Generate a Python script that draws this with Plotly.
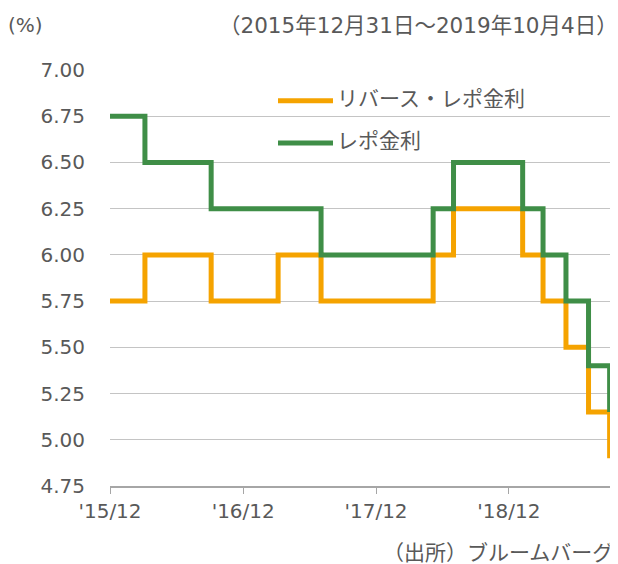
import plotly.graph_objects as go

# ---- data ----
repo_dates = ["2015-12-31", "2016-04-05", "2016-10-04", "2017-08-02", "2018-06-06",
              "2018-08-01", "2019-02-07", "2019-04-04", "2019-06-06", "2019-08-07", "2019-10-04"]
repo_rate = [6.75, 6.50, 6.25, 6.00, 6.25, 6.50, 6.25, 6.00, 5.75, 5.40, 5.15]

reverse_dates = ["2015-12-31", "2016-04-05", "2016-10-04", "2017-04-06", "2017-08-02", "2018-06-06",
                 "2018-08-01", "2019-02-07", "2019-04-04", "2019-06-06", "2019-08-07", "2019-10-04"]
reverse_rate = [5.75, 6.00, 5.75, 6.00, 5.75, 6.00, 6.25, 6.00, 5.75, 5.50, 5.15, 4.90]

x_tick_vals = ["2015-12-31", "2016-12-31", "2017-12-31", "2018-12-31"]
x_tick_text = ["'15/12", "'16/12", "'17/12", "'18/12"]
y_tick_vals = [4.75, 5.00, 5.25, 5.50, 5.75, 6.00, 6.25, 6.50, 6.75, 7.00]

name_reverse = "リバース・レポ金利"
name_repo = "レポ金利"

ORANGE = "#F5A300"
GREEN = "#3F8E47"
TEXT = "#595959"
FONT = "DejaVu Sans, Noto Sans CJK JP, sans-serif"

# plot area (page pixels): x 110..614, y 70..486  -> 504 x 416
PW, PH = 504.0, 416.0
def px(x):
    return (x - 110) / PW
def py(y):
    return (486 - y) / PH

fig = go.Figure()
fig.add_trace(go.Scatter(x=reverse_dates, y=reverse_rate, mode="lines", name=name_reverse,
                         line=dict(color=ORANGE, width=5, shape="hv"), showlegend=False))
fig.add_trace(go.Scatter(x=repo_dates, y=repo_rate, mode="lines", name=name_repo,
                         line=dict(color=GREEN, width=5, shape="hv"), showlegend=False))

# custom legend
for (nm, col, ly) in [(name_reverse, ORANGE, 100.7), (name_repo, GREEN, 143.0)]:
    fig.add_shape(type="line", xref="paper", yref="paper", x0=px(278), x1=px(333), y0=py(ly), y1=py(ly),
                  line=dict(color=col, width=5))
    fig.add_annotation(xref="paper", yref="paper", x=px(335), y=py(ly - 2), text=nm, showarrow=False,
                       xanchor="left", yanchor="middle", font=dict(size=21, color=TEXT, family=FONT))

fig.add_annotation(xref="paper", yref="paper", x=px(6), y=py(25), text="(%)", showarrow=False,
                   xanchor="left", yanchor="middle", font=dict(size=20, color=TEXT, family=FONT))
fig.add_annotation(xref="paper", yref="paper", x=px(620), y=py(25),
                   text="（2015年12月31日～2019年10月4日）", showarrow=False,
                   xanchor="right", yanchor="middle", font=dict(size=21.5, color=TEXT, family=FONT))
fig.add_annotation(xref="paper", yref="paper", x=px(615), y=py(553),
                   text="（出所）ブルームバーグ", showarrow=False,
                   xanchor="right", yanchor="middle", font=dict(size=21, color=TEXT, family=FONT))

# page body has an 8px margin: figure is placed at (8, 8)
fig.update_layout(
    width=610, height=556,
    margin=dict(l=102, r=4, t=62, b=78),
    paper_bgcolor="white", plot_bgcolor="white",
    font=dict(family=FONT, size=20, color=TEXT),
    xaxis=dict(type="date", range=["2015-12-31", "2019-10-16"], tickvals=x_tick_vals, ticktext=x_tick_text,
               showgrid=False, showline=True, linecolor="#A6A6A6", linewidth=1.5,
               ticks="outside", ticklen=6, tickcolor="#A6A6A6", tickwidth=1,
               tickfont=dict(size=20, color=TEXT, family=FONT), zeroline=False),
    yaxis=dict(range=[4.75, 7.0], tickvals=y_tick_vals, tickformat=".2f",
               showgrid=True, gridcolor="#C4C4C4", gridwidth=1, showline=False, zeroline=False,
               ticks="", ticklabelstandoff=24,
               tickfont=dict(size=20, color=TEXT, family=FONT)),
)

fig.write_html("out.html")
